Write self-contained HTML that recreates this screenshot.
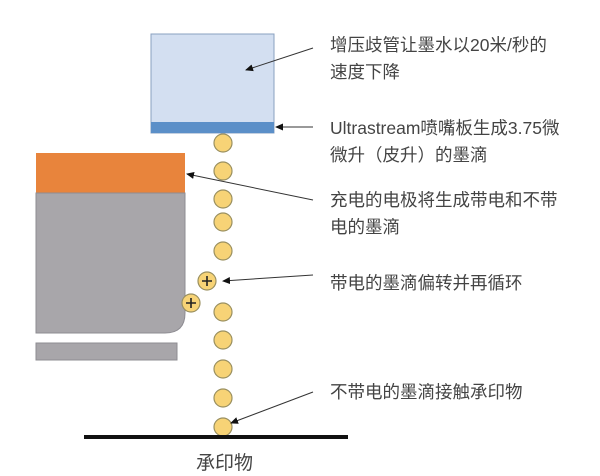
<!DOCTYPE html>
<html><head><meta charset="utf-8"><style>
html,body{margin:0;padding:0;background:#fff;width:600px;height:476px;overflow:hidden}
text{font-family:"Liberation Sans","Noto Sans CJK SC",sans-serif;font-size:17.5px;fill:#444}
</style></head><body>
<svg width="600" height="476" viewBox="0 0 600 476" xmlns="http://www.w3.org/2000/svg">
<defs><marker id="a" markerWidth="8" markerHeight="8" refX="7" refY="4" orient="auto" markerUnits="userSpaceOnUse"><path d="M0,0.5 L8,4 L0,7.5 z" fill="#111"/></marker></defs>
<rect x="151" y="34" width="123" height="99" fill="#d3dff1" stroke="#8aa0c0" stroke-width="1"/>
<rect x="151" y="122" width="123" height="11" fill="#5b8fc8"/>
<rect x="36" y="153" width="149" height="40" fill="#e8843c"/>
<path d="M36,193 H185 V313 Q185,333 165,333 H36 Z" fill="#a8a6aa" stroke="#8e8c92" stroke-width="1"/>
<rect x="36" y="343" width="141" height="17" fill="#a8a6aa" stroke="#8e8c92" stroke-width="1"/>
<g fill="#f7d376" stroke="#9a9060" stroke-width="1.2">
<circle cx="223" cy="143" r="9"/><circle cx="223" cy="171" r="9"/><circle cx="223" cy="199" r="9"/><circle cx="223" cy="222" r="9"/><circle cx="223" cy="251" r="9"/><circle cx="223" cy="312" r="9"/><circle cx="223" cy="340" r="9"/><circle cx="223" cy="369" r="9"/><circle cx="223" cy="398" r="9"/><circle cx="223" cy="427" r="9"/>
<circle cx="207" cy="281" r="9"/><circle cx="191" cy="303" r="9"/>
</g>
<g stroke="#222" stroke-width="1.6"><path d="M202,281 h10 M207,276 v10 M186,303 h10 M191,298 v10"/></g>
<rect x="84" y="435" width="264" height="4" fill="#111"/>
<g stroke="#333" stroke-width="1" fill="none" marker-end="url(#a)">
<line x1="313" y1="48" x2="246" y2="70"/>
<line x1="313" y1="127" x2="276" y2="127"/>
<line x1="313" y1="200" x2="187" y2="174"/>
<line x1="313" y1="275" x2="223" y2="281"/>
<line x1="313" y1="392" x2="231" y2="423"/>
</g>
<text x="330" y="51">增压歧管让墨水以20米/秒的</text>
<text x="330" y="78">速度下降</text>
<text x="330" y="134">Ultrastream喷嘴板生成3.75微</text>
<text x="330" y="161">微升（皮升）的墨滴</text>
<text x="330" y="206">充电的电极将生成带电和不带</text>
<text x="330" y="233">电的墨滴</text>
<text x="330" y="289">带电的墨滴偏转并再循环</text>
<text x="330" y="398">不带电的墨滴接触承印物</text>
<text x="196" y="469" style="font-size:19px">承印物</text>
</svg>
</body></html>
